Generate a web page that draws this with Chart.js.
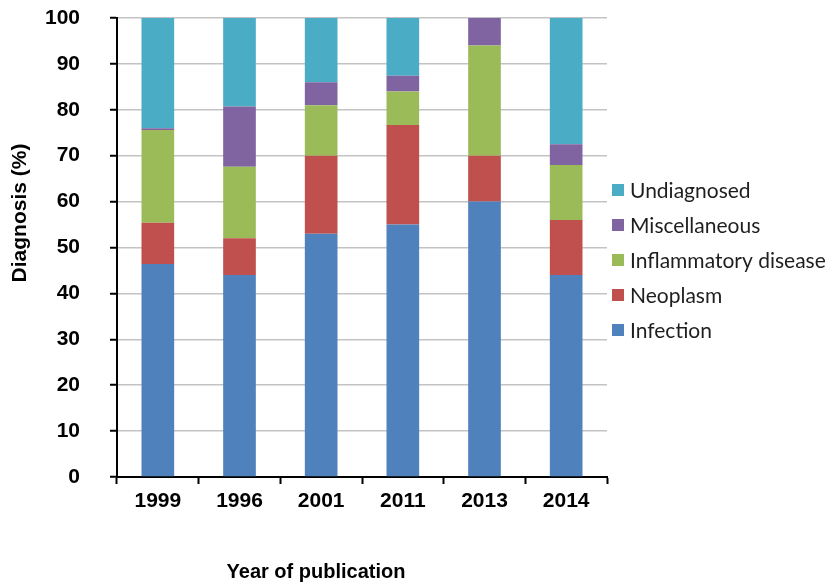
<!DOCTYPE html>
<html>
<head>
<meta charset="utf-8">
<script src="https://cdn.jsdelivr.net/npm/chart.js@4/dist/chart.umd.min.js"></script>
<style>
  html, body { margin: 0; padding: 0; background: #fff; }
  #wrap { width: 827px; height: 585px; position: relative; }
</style>
</head>
<body>
<div id="wrap"><canvas id="c" width="827" height="585"></canvas></div>
<script>
// Diagnosis share (%) per study, by year of publication
const years = ['1999', '1996', '2001', '2011', '2013', '2014'];
const infection     = [46.4, 44.0, 53.0, 55.0, 60.0, 44.0];
const neoplasm      = [9.0, 8.0, 17.0, 21.7, 10.0, 12.0];
const inflammatory  = [20.2, 15.6, 11.0, 7.3, 24.0, 12.0];
const miscellaneous = [0.4, 13.1, 5.0, 3.4, 6.0, 4.5];
const undiagnosed   = [24.0, 19.3, 14.0, 12.6, 0.0, 27.5];
const yTicks = [0, 10, 20, 30, 40, 50, 60, 70, 80, 90, 100];

const BOLD = '"Liberation Sans", Arial, sans-serif';
const axisFont = { family: BOLD, size: 21, weight: 'bold' };

// Axis captions, placed relative to the plot area
const captions = {
  id: 'captions',
  afterDraw(chart) {
    const { ctx, chartArea } = chart;
    ctx.save();
    ctx.fillStyle = '#000';
    ctx.textAlign = 'center';
    ctx.textBaseline = 'middle';
    ctx.font = 'bold 20px ' + BOLD;
    ctx.fillText('Year of publication', chartArea.left + 199, chartArea.bottom + 95);
    ctx.font = 'bold 21px ' + BOLD;
    ctx.translate(chartArea.left - 97, chartArea.top + 195);
    ctx.rotate(-Math.PI / 2);
    ctx.fillText('Diagnosis (%)', 0, 0);
    ctx.restore();
  }
};

// Legend on the right, top series first
const sideLegend = {
  id: 'sideLegend',
  afterDraw(chart) {
    const { ctx, chartArea } = chart;
    const sets = chart.data.datasets.slice().reverse();
    const x = chartArea.right + 5;
    const y0 = 190, step = 35, box = 12;
    ctx.save();
    ctx.font = '21px Lato, "Open Sans", sans-serif';
    ctx.textBaseline = 'middle';
    ctx.textAlign = 'left';
    sets.forEach((ds, i) => {
      const y = y0 + i * step;
      ctx.fillStyle = ds.backgroundColor;
      ctx.fillRect(x, y - box / 2, box, box);
      ctx.fillStyle = '#1e1e1e';
      ctx.fillText(ds.label, x + box + 6, y + 1);
    });
    ctx.restore();
  }
};

const series = [
  { label: 'Infection', data: infection, color: '#4F81BD' },
  { label: 'Neoplasm', data: neoplasm, color: '#C0504D' },
  { label: 'Inflammatory disease', data: inflammatory, color: '#9BBB59' },
  { label: 'Miscellaneous', data: miscellaneous, color: '#8064A2' },
  { label: 'Undiagnosed', data: undiagnosed, color: '#4BACC6' }
];

new Chart(document.getElementById('c'), {
  type: 'bar',
  data: {
    labels: years,
    datasets: series.map(s => ({
      label: s.label,
      data: s.data,
      backgroundColor: s.color,
      borderWidth: 0,
      barPercentage: 0.4,
      categoryPercentage: 1.0
    }))
  },
  options: {
    responsive: false,
    animation: false,
    layout: { padding: { top: 18, left: 10, right: 220, bottom: 0 } },
    plugins: {
      tooltip: { enabled: false },
      legend: { display: false }
    },
    scales: {
      x: {
        stacked: true,
        afterFit(scale) {
          scale.height = 108;
          scale.paddingLeft = 0;
          scale.paddingRight = 0;
        },
        grid: {
          offset: true,
          drawOnChartArea: false,
          tickLength: 7,
          tickColor: '#000',
          tickWidth: 2
        },
        border: { color: '#000', width: 2 },
        ticks: { color: '#000', font: axisFont, padding: 5 }
      },
      y: {
        stacked: true,
        min: 0,
        max: 100,
        afterBuildTicks(axis) { axis.ticks = yTicks.map(v => ({ value: v })); },
        afterFit(scale) {
          scale.width = 107;
          scale.paddingTop = 0;
          scale.paddingBottom = 0;
        },
        grid: {
          color: '#C3C3C3',
          lineWidth: 1.5,
          tickLength: 7,
          tickColor: '#000',
          tickWidth: 2
        },
        border: { color: '#000', width: 2 },
        ticks: { color: '#000', font: axisFont, padding: 30 }
      }
    }
  },
  plugins: [captions, sideLegend]
});
</script>
</body>
</html>
